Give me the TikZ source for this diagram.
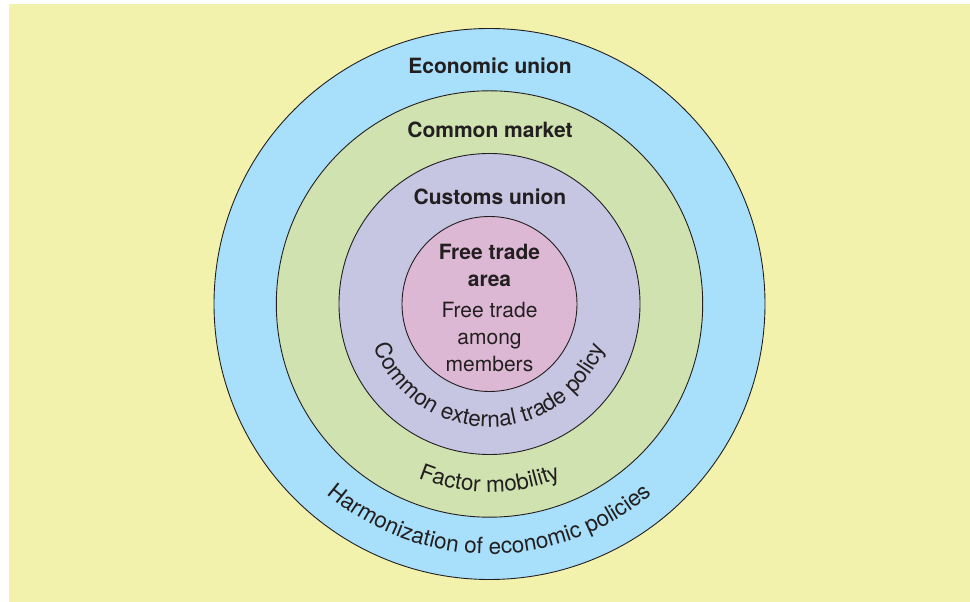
\documentclass[tikz,border=0pt]{standalone}
\usepackage{fontspec}
\setmainfont{TeX Gyre Heros}
\usetikzlibrary{decorations.text}
\definecolor{bgyellow}{RGB}{243,242,173}
\definecolor{ringblue}{RGB}{168,223,250}
\definecolor{ringgreen}{RGB}{208,226,176}
\definecolor{ringpurple}{RGB}{198,197,226}
\definecolor{ringpink}{RGB}{221,184,213}
\definecolor{ink}{RGB}{35,31,32}
\newcommand\arcfont{\fontsize{22.5}{22.5}\selectfont\color{ink}}
\tikzset{
  ring/.style={circle, draw=ink, line width=0.9pt, inner sep=0pt, outer sep=0pt},
  titlelbl/.style={font=\fontsize{21}{21}\selectfont\bfseries, text=ink, anchor=base, inner sep=0pt},
  bodylbl/.style={font=\fontsize{21}{21}\selectfont, text=ink, anchor=base, inner sep=0pt},
}
\begin{document}
\begin{tikzpicture}[x=1pt,y=1pt]
\useasboundingbox (0,0) rectangle (970,602);
\fill[bgyellow] (9,0) rectangle (970,598);
\coordinate (c) at (489.5,298);
\node[ring, fill=ringblue, minimum size=551pt] (eu) at (c) {};
\node[ring, fill=ringgreen, minimum size=426.4pt] (cm) at (c) {};
\node[ring, fill=ringpurple, minimum size=301pt] (cu) at (c) {};
\node[ring, fill=ringpink, minimum size=175pt] (fta) at (c) {};
% titles
\node[titlelbl] (teu) at (490,528.5) {Economic union};
\node[titlelbl] (tcm) at (490,464.7) {Common market};
\node[titlelbl] (tcu) at (490,397.7) {Customs union};
\node[titlelbl] (tfta1) at (489.5,342) {Free trade};
\node[titlelbl] (tfta2) at (489.5,315.3) {area};
\node[bodylbl] (b1) at (489.5,284.3) {Free trade};
\node[bodylbl] (b2) at (489.5,257) {among};
\node[bodylbl] (b3) at (489.5,230) {members};
% curved labels
\path[decorate, decoration={text along path, text align=center,
  text={|\arcfont|Common external trade policy}}]
  (c) ++(180:123) arc[start angle=180, end angle=360, radius=123];
\path[decorate, decoration={text along path, text align=center,
  text={|\arcfont|Factor mobility}}]
  (c) ++(180:188) arc[start angle=180, end angle=360, radius=188];
\path[decorate, decoration={text along path, text align=center,
  text={|\arcfont|Harmonization of economic policies}}]
  (c) ++(180:250) arc[start angle=180, end angle=360, radius=250];
\end{tikzpicture}
\end{document}
